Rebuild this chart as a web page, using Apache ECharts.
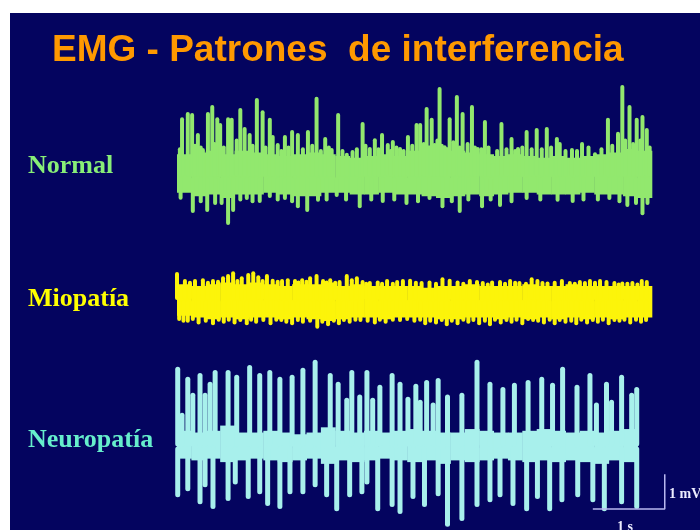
<!DOCTYPE html>
<html>
<head>
<meta charset="utf-8">
<title>EMG - Patrones de interferencia</title>
<script src="https://cdn.jsdelivr.net/npm/echarts@6/dist/echarts.min.js"></script>
<style>
html, body { margin: 0; padding: 0; background: #fff; }
#chart { width: 700px; height: 530px; }
</style>
</head>
<body>
<div id="chart"></div>
<script>
// time in s, amplitude in mV (1 s = 72 px, 1 mV = 35 px in the slide)
const BAND_STEP = 0.2;

// Normal
const normalBandHi = [0.65, 0.7, 0.75, 0.65, 0.75, 0.7, 0.65, 0.6, 0.65, 0.7, 0.65, 0.6, 0.55, 0.6, 0.65, 0.6, 0.75, 0.9, 0.85, 0.75, 0.7, 0.65, 0.6, 0.65, 0.6, 0.55, 0.6, 0.55, 0.6, 0.65, 0.7, 0.8, 0.75];
const normalBandLo = [-0.45, -0.55, -0.5, -0.6, -0.5, -0.5, -0.45, -0.5, -0.55, -0.55, -0.45, -0.45, -0.5, -0.5, -0.45, -0.5, -0.5, -0.55, -0.6, -0.55, -0.5, -0.55, -0.5, -0.45, -0.45, -0.5, -0.5, -0.5, -0.45, -0.5, -0.5, -0.55, -0.6];
const normalUp = [
    [0.07, 1.71], [0.15, 1.86], [0.21, 1.83], [0.29, 1.26], [0.36, 0.83], [0.43, 1.86], [0.49, 2.06], [0.56, 1.71],
    [0.60, 1.54], [0.71, 1.71], [0.76, 1.69], [0.88, 1.97], [0.94, 1.43], [1.01, 1.26], [1.11, 2.26], [1.19, 1.91],
    [1.29, 1.69], [1.33, 1.20], [1.40, 0.97], [1.50, 1.20], [1.60, 1.34], [1.68, 1.26], [1.82, 1.34], [1.94, 2.29],
    [2.06, 1.14], [2.15, 0.83], [2.24, 1.83], [2.36, 0.69], [2.44, 0.77], [2.58, 1.57], [2.68, 0.86], [2.75, 1.11],
    [2.85, 1.26], [2.93, 0.97], [3.00, 1.06], [3.10, 0.86], [3.21, 1.20], [3.33, 1.54], [3.38, 1.54], [3.47, 2.00],
    [3.54, 1.69], [3.58, 0.97], [3.65, 2.57], [3.72, 0.91], [3.79, 1.71], [3.89, 2.34], [3.97, 1.86], [4.10, 2.06],
    [4.18, 0.86], [4.28, 1.63], [4.39, 0.40], [4.51, 1.57], [4.65, 1.14], [4.74, 0.86], [4.86, 1.34], [5.00, 1.40],
    [5.14, 1.43], [5.28, 1.14], [5.32, 1.00], [5.49, 0.83], [5.63, 1.00], [5.81, 0.71], [5.99, 1.69], [6.13, 1.29],
    [6.19, 2.63], [6.29, 2.06], [6.39, 1.69], [6.47, 1.77], [6.53, 1.40],
    [0.04, 0.85], [0.25, 0.95], [0.33, 0.9], [0.52, 1.0], [0.65, 0.9], [0.83, 1.1], [1.05, 0.95], [1.23, 0.9],
    [1.45, 0.8], [1.55, 0.9], [1.75, 0.85], [1.88, 0.95], [2.0, 0.8], [2.11, 0.9], [2.30, 0.8], [2.50, 0.85],
    [2.62, 0.95], [2.80, 0.85], [2.97, 0.8], [3.05, 0.9], [3.15, 0.8], [3.27, 0.95], [3.43, 1.0], [3.62, 1.1],
    [3.68, 0.95], [3.84, 1.05], [3.93, 0.9], [4.04, 1.0], [4.14, 0.9], [4.23, 0.85], [4.33, 0.9], [4.45, 0.8],
    [4.58, 0.85], [4.70, 0.8], [4.80, 0.9], [4.93, 0.85], [5.07, 0.85], [5.20, 0.9], [5.40, 0.8], [5.56, 0.8],
    [5.72, 0.9], [5.90, 0.85], [6.05, 0.95], [6.23, 1.1], [6.34, 1.0], [6.44, 1.1], [6.57, 0.9]
];
const normalDown = [
    [0.22, -1.03], [0.42, -1.00], [0.53, -0.80], [0.71, -1.37], [0.78, -1.00], [0.97, -0.66], [1.15, -0.74], [1.29, -0.60],
    [1.50, -0.66], [1.68, -0.89], [1.81, -1.00], [1.96, -0.71], [2.22, -0.57], [2.54, -0.89], [2.86, -0.74], [3.19, -0.80],
    [3.51, -0.66], [3.69, -0.89], [3.93, -1.03], [4.24, -0.89], [4.49, -0.86], [4.86, -0.66], [5.29, -0.71], [5.50, -0.74],
    [6.01, -0.66], [6.26, -0.86], [6.47, -1.09], [6.54, -0.80],
    [0.05, -0.65], [0.33, -0.75], [0.62, -0.8], [0.88, -0.7], [1.05, -0.75], [1.40, -0.7], [1.60, -0.75], [2.08, -0.7],
    [2.35, -0.7], [2.70, -0.7], [3.02, -0.7], [3.35, -0.75], [3.82, -0.75], [4.05, -0.7], [4.36, -0.7], [4.65, -0.75],
    [5.05, -0.7], [5.65, -0.7], [5.85, -0.7], [6.15, -0.75], [6.38, -0.8]
];

// Miopatía
const mioBandHi = [0.45, 0.4, 0.45, 0.5, 0.45, 0.5, 0.45, 0.4, 0.45, 0.45, 0.5, 0.4, 0.45, 0.4, 0.4, 0.4, 0.4, 0.35, 0.4, 0.4, 0.45, 0.4, 0.4, 0.4, 0.45, 0.4, 0.4, 0.45, 0.4, 0.4, 0.4, 0.4, 0.4];
const mioBandLo = [-0.45, -0.5, -0.55, -0.5, -0.55, -0.5, -0.5, -0.55, -0.5, -0.55, -0.6, -0.55, -0.5, -0.5, -0.55, -0.5, -0.5, -0.5, -0.55, -0.55, -0.5, -0.5, -0.55, -0.5, -0.55, -0.5, -0.55, -0.5, -0.55, -0.5, -0.55, -0.5, -0.5];
const mioUp = [
    [0.0, 0.8], [0.11, 0.6], [0.18, 0.55], [0.25, 0.6], [0.36, 0.62], [0.43, 0.55], [0.50, 0.6], [0.57, 0.58], [0.64, 0.68], [0.71, 0.74], [0.78, 0.82],
    [0.84, 0.6], [0.90, 0.68], [0.99, 0.77], [1.06, 0.82], [1.13, 0.71], [1.19, 0.6], [1.25, 0.74], [1.33, 0.61], [1.40, 0.58], [1.46, 0.6], [1.54, 0.62],
    [1.64, 0.6], [1.69, 0.56], [1.74, 0.62], [1.80, 0.58], [1.85, 0.68], [1.94, 0.74], [2.03, 0.6], [2.08, 0.56], [2.13, 0.62], [2.20, 0.55], [2.26, 0.57], [2.36, 0.74],
    [2.43, 0.62], [2.50, 0.68], [2.58, 0.57], [2.63, 0.52], [2.68, 0.54], [2.79, 0.56], [2.85, 0.52], [2.92, 0.6], [3.00, 0.52], [3.06, 0.57], [3.14, 0.6],
    [3.24, 0.61], [3.32, 0.55], [3.40, 0.54], [3.51, 0.56], [3.60, 0.52], [3.69, 0.65], [3.79, 0.61], [3.90, 0.56], [3.98, 0.52], [4.07, 0.6], [4.17, 0.57],
    [4.25, 0.54], [4.32, 0.5], [4.38, 0.56], [4.49, 0.57], [4.56, 0.52], [4.63, 0.6], [4.70, 0.55], [4.76, 0.54], [4.85, 0.52], [4.93, 0.65], [5.01, 0.6], [5.08, 0.54], [5.15, 0.53],
    [5.25, 0.55], [5.35, 0.6], [5.46, 0.54], [5.53, 0.52], [5.60, 0.57], [5.67, 0.54], [5.74, 0.6], [5.81, 0.55], [5.88, 0.6], [5.97, 0.57], [6.08, 0.54], [6.14, 0.5], [6.19, 0.53],
    [6.26, 0.52], [6.33, 0.54], [6.40, 0.5], [6.46, 0.6], [6.53, 0.57]
];
const mioDown = [
    [0.03, -0.6], [0.09, -0.65], [0.15, -0.65], [0.22, -0.6], [0.3, -0.7], [0.4, -0.65], [0.5, -0.72], [0.58, -0.62], [0.65, -0.68], [0.72, -0.62], [0.8, -0.7], [0.88, -0.63], [0.97, -0.72], [1.03, -0.62], [1.1, -0.68],
    [1.2, -0.63], [1.3, -0.72], [1.38, -0.62], [1.45, -0.63], [1.52, -0.68], [1.6, -0.72], [1.68, -0.63], [1.75, -0.68], [1.85, -0.65], [1.95, -0.82], [2.02, -0.68], [2.1, -0.75], [2.18, -0.65], [2.25, -0.72], [2.32, -0.63], [2.4, -0.68],
    [2.48, -0.62], [2.55, -0.63], [2.65, -0.65], [2.75, -0.7], [2.82, -0.62], [2.9, -0.68], [3.0, -0.62], [3.1, -0.63], [3.2, -0.6], [3.3, -0.65], [3.38, -0.62], [3.45, -0.72], [3.52, -0.65], [3.6, -0.7], [3.68, -0.63], [3.75, -0.75],
    [3.82, -0.65], [3.9, -0.72], [3.98, -0.62], [4.05, -0.68], [4.12, -0.63], [4.2, -0.72], [4.28, -0.65], [4.35, -0.75], [4.42, -0.62], [4.5, -0.7], [4.58, -0.63], [4.65, -0.68], [4.72, -0.62], [4.8, -0.72], [4.88, -0.6], [4.95, -0.63],
    [5.02, -0.65], [5.1, -0.7], [5.18, -0.62], [5.25, -0.72], [5.32, -0.63], [5.4, -0.68], [5.48, -0.65], [5.55, -0.72], [5.62, -0.62], [5.7, -0.7], [5.78, -0.63], [5.85, -0.68], [5.92, -0.62], [6.0, -0.72], [6.08, -0.63], [6.15, -0.65],
    [6.22, -0.62], [6.3, -0.7], [6.38, -0.62], [6.45, -0.68], [6.52, -0.63]
];

// Neuropatía
const neuroBandHi = [0.45, 0.4, 0.45, 0.6, 0.4, 0.4, 0.45, 0.4, 0.35, 0.4, 0.55, 0.45, 0.4, 0.45, 0.4, 0.45, 0.5, 0.45, 0.4, 0.4, 0.5, 0.45, 0.4, 0.4, 0.45, 0.5, 0.45, 0.4, 0.45, 0.4, 0.45, 0.5];
const neuroBandLo = [-0.35, -0.4, -0.35, -0.45, -0.4, -0.35, -0.4, -0.45, -0.4, -0.35, -0.5, -0.4, -0.45, -0.4, -0.35, -0.4, -0.45, -0.4, -0.5, -0.4, -0.45, -0.4, -0.35, -0.4, -0.45, -0.4, -0.45, -0.4, -0.45, -0.5, -0.4, -0.45];
const neuroUp = [
    [0.01, 2.29], [0.07, 0.97], [0.15, 2.00], [0.22, 1.54], [0.32, 2.11], [0.39, 1.54], [0.46, 1.86], [0.53, 2.20],
    [0.71, 2.20], [0.83, 2.06], [1.01, 2.34], [1.15, 2.11], [1.29, 2.20], [1.43, 2.00], [1.60, 2.06], [1.75, 2.26],
    [1.92, 2.49], [2.13, 2.11], [2.24, 1.86], [2.36, 1.40], [2.43, 2.20], [2.54, 1.49], [2.64, 2.20], [2.72, 1.40],
    [2.82, 1.77], [2.99, 2.11], [3.10, 1.86], [3.21, 1.43], [3.32, 1.80], [3.38, 1.34], [3.47, 1.91], [3.56, 1.26],
    [3.63, 1.97], [3.76, 1.49], [3.96, 1.54], [4.17, 2.49], [4.35, 1.86], [4.53, 1.71], [4.69, 1.83], [4.88, 1.91],
    [5.07, 2.00], [5.22, 1.83], [5.36, 2.29], [5.56, 1.77], [5.74, 2.11], [5.83, 1.26], [5.97, 1.86], [6.04, 1.34],
    [6.18, 2.06], [6.32, 1.54], [6.39, 1.71]
];
const neuroDown = [
    [0.01, -1.46], [0.15, -1.29], [0.32, -1.66], [0.39, -1.17], [0.50, -1.80], [0.71, -1.57], [0.81, -1.09], [0.99, -1.51],
    [1.15, -1.37], [1.26, -1.71], [1.43, -1.80], [1.57, -1.37], [1.75, -1.37], [1.92, -1.17], [2.08, -1.46], [2.22, -1.86],
    [2.40, -1.46], [2.57, -1.37], [2.64, -1.09], [2.79, -1.86], [2.99, -1.74], [3.10, -1.94], [3.28, -1.51], [3.44, -1.74],
    [3.63, -1.43], [3.76, -2.31], [3.96, -2.14], [4.17, -1.74], [4.35, -1.60], [4.49, -1.46], [4.67, -1.71], [4.86, -1.86],
    [5.01, -1.51], [5.18, -1.86], [5.35, -1.60], [5.57, -1.46], [5.78, -1.60], [5.94, -1.86], [6.18, -1.66], [6.39, -1.80]
];

// calibration: 1 s horizontal, 1 mV vertical
const scaleBar = [[5.78, -1.8], [6.78, -1.8], [6.78, -0.8]];

const navy = '#04045f';
const serif = "'Liberation Serif', 'Times New Roman', serif";
const sans = "'Liberation Sans', Arial, sans-serif";

function bandData(lo, hi) {
    return lo.map(function (v, i) { return [i * BAND_STEP + BAND_STEP / 2, v, hi[i]]; });
}

//band: one rect per sample, from lo to hi
function renderBand(params, api) {
    var top = api.coord([api.value(0), api.value(2)]);
    var bottom = api.coord([api.value(0), api.value(1)]);
    var w = api.size([BAND_STEP, 0])[0];
    return {
        type: 'rect',
        shape: { x: top[0] - w / 2, y: top[1], width: w + 0.5, height: bottom[1] - top[1] },
        style: { fill: api.visual('color') }
    };
}

//spike: thin rect from baseline to peak
function spikeRenderer(width) {
    return function (params, api) {
        var base = api.coord([api.value(0), 0]);
        var tip = api.coord([api.value(0), api.value(1)]);
        return {
            type: 'rect',
            shape: { x: base[0] - width / 2, y: Math.min(base[1], tip[1]), width: width, height: Math.abs(tip[1] - base[1]), r: width / 2 },
            style: { fill: api.visual('color') }
        };
    };
}

function axisPair(idx, yMin, yMax) {
    return {
        x: { type: 'value', gridIndex: idx, min: 0, max: 6.95, show: false },
        y: { type: 'value', gridIndex: idx, min: yMin, max: yMax, show: false }
    };
}

var axes = [axisPair(0, -1.6, 2.8), axisPair(1, -1.2, 1.2), axisPair(2, -2.4, 2.8)];

function traceSeries(idx, color, lo, hi, up, down, spikeW) {
    return [{
        type: 'custom',
        xAxisIndex: idx,
        yAxisIndex: idx,
        color: color,
        silent: true,
        renderItem: renderBand,
        encode: { x: 0, y: [1, 2] },
        data: bandData(lo, hi)
    }, {
        type: 'custom',
        xAxisIndex: idx,
        yAxisIndex: idx,
        color: color,
        silent: true,
        renderItem: spikeRenderer(spikeW),
        encode: { x: 0, y: 1 },
        data: up.concat(down)
    }];
}

var option = {
    backgroundColor: navy,
    animation: false,
    grid: [
        { left: 177, width: 500, top: 79, height: 154 },
        { left: 177, width: 500, top: 258, height: 84 },
        { left: 177, width: 500, top: 349, height: 182 }
    ],
    xAxis: axes.map(function (a) { return a.x; }),
    yAxis: axes.map(function (a) { return a.y; }),
    series: []
        .concat(traceSeries(0, '#92e86e', normalBandLo, normalBandHi, normalUp, normalDown, 4))
        .concat(traceSeries(1, '#fcf40a', mioBandLo, mioBandHi, mioUp, mioDown, 4))
        .concat(traceSeries(2, '#a8f0ec', neuroBandLo, neuroBandHi, neuroUp, neuroDown, 5))
        .concat([{
            type: 'line',
            xAxisIndex: 2,
            yAxisIndex: 2,
            data: scaleBar,
            symbol: 'none',
            silent: true,
            lineStyle: { color: '#b8b8f0', width: 1.5 }
        }]),
    graphic: [
        // white slide margins
        { type: 'rect', left: 0, top: 0, shape: { width: 700, height: 13 }, style: { fill: '#fff' } },
        { type: 'rect', left: 0, top: 0, shape: { width: 10, height: 530 }, style: { fill: '#fff' } },
        {
            type: 'text', x: 52, y: 51,
            style: { text: 'EMG - Patrones  de interferencia', fill: '#ff9900', font: 'bold 37px ' + sans, verticalAlign: 'middle' }
        },
        {
            type: 'text', x: 28, y: 166,
            style: { text: 'Normal', fill: '#88ee77', font: 'bold 26px ' + serif, verticalAlign: 'middle' }
        },
        {
            type: 'text', x: 28, y: 299,
            style: { text: 'Miopatía', fill: '#ffff00', font: 'bold 26px ' + serif, verticalAlign: 'middle' }
        },
        {
            type: 'text', x: 28, y: 440,
            style: { text: 'Neuropatía', fill: '#66eecc', font: 'bold 26px ' + serif, verticalAlign: 'middle' }
        },
        {
            type: 'text', x: 669, y: 494,
            style: { text: '1 mV', fill: '#ececff', font: 'bold 14px ' + serif, verticalAlign: 'middle' }
        },
        {
            type: 'text', x: 617, y: 527,
            style: { text: '1 s', fill: '#ececff', font: 'bold 14px ' + serif, verticalAlign: 'middle' }
        }
    ]
};

var chart = echarts.init(document.getElementById('chart'));
chart.setOption(option);
</script>
</body>
</html>
